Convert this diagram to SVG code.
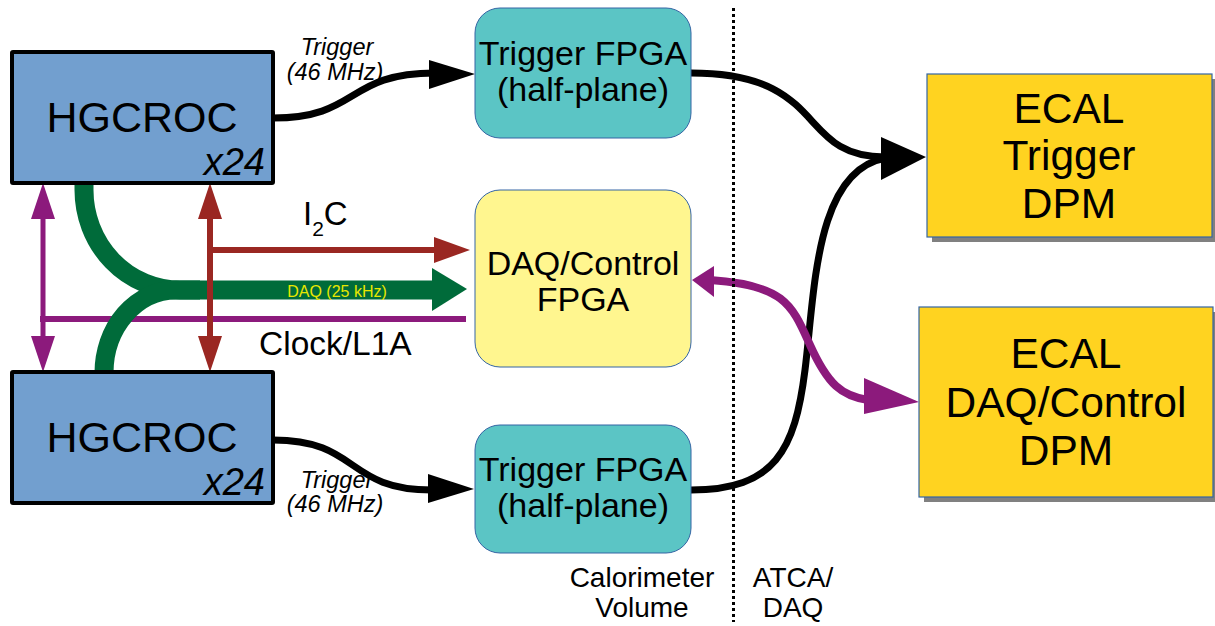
<svg xmlns="http://www.w3.org/2000/svg" width="1215" height="626" viewBox="0 0 1215 626">
<style>
text{font-family:"Liberation Sans",Arial,sans-serif;fill:#000}
.hg{fill:#729fcf;stroke:#000;stroke-width:4}
.tf{fill:#5bc5c5;stroke:#3465a4;stroke-width:1}
.df{fill:#fff68f;stroke:#3465a4;stroke-width:1}
.ec{fill:#ffd320;stroke:#3465a4;stroke-width:1.2}
.sh{fill:#808080}
.blk{fill:none;stroke:#000;stroke-width:7}
.pur{stroke:#8c1a7c;fill:none}
.brn{stroke:#9a2722;fill:none}
.grn{stroke:#006b3a;fill:none}
</style>
<g id="connectors">
  <!-- purple Clock/L1A -->
  <path class="pur" stroke-width="5" d="M43,210 L43,345"/>
  <path class="pur" stroke-width="6" d="M40,319 L466,319"/>
  <polygon fill="#8c1a7c" points="43,183 55,219 31,219"/>
  <polygon fill="#8c1a7c" points="43,372 55,336 31,336"/>
  <!-- green DAQ -->
  <path class="grn" stroke-width="19" d="M84,183 L84,190 A96,100 0 0 0 180,290 L434,290"/>
  <path class="grn" stroke-width="19" d="M104,373 A72,83 0 0 1 176,290 L200,290"/>
  <polygon fill="#006b3a" points="432,268 467,289 432,311"/>
  <!-- brown I2C -->
  <path class="brn" stroke-width="6" d="M210,210 L210,345 M210,250 L438,250"/>
  <polygon fill="#9a2722" points="210,183 222,219 198,219"/>
  <polygon fill="#9a2722" points="210,372 222,336 198,336"/>
  <polygon fill="#9a2722" points="470,250 434,237 434,263"/>
  <!-- triggers from HGCROC -->
  <path class="blk" d="M273,118 C360,118 345,73 435,73"/>
  <polygon points="475,74 429,60 429,89"/>
  <path class="blk" d="M273,440 C360,440 345,490 432,490"/>
  <polygon points="474,489 428,474 428,503"/>
  <!-- trigger FPGA to ECAL -->
  <path class="blk" d="M691,73 C830,73 795,157 885,157"/>
  <path class="blk" d="M691,490 C775,490 795,450 805,370 C815,290 815,170 886,158"/>
  <polygon points="926,157 881,137 881,180"/>
  <!-- purple DAQ link -->
  <path class="pur" stroke-width="8" d="M710,280 C785,285 792,305 810,345 C828,385 842,396 868,400"/>
  <polygon fill="#8c1a7c" points="692,280 714,266 714,297"/>
  <polygon fill="#8c1a7c" points="919,402 864,378 864,414"/>
</g>
<g id="divider">
  <line x1="733.5" y1="8" x2="733.5" y2="622" stroke="#000" stroke-width="3" stroke-dasharray="3,3"/>
</g>
<g id="hgcroc-top">
  <rect class="hg" x="12" y="52" width="261" height="131" rx="1"/>
  <text x="142" y="132" font-size="43" text-anchor="middle">HGCROC</text>
  <text x="265" y="175" font-size="38" font-style="italic" text-anchor="end">x24</text>
</g>
<g id="hgcroc-bottom">
  <rect class="hg" x="12" y="372" width="261" height="131" rx="1"/>
  <text x="142" y="452" font-size="43" text-anchor="middle">HGCROC</text>
  <text x="265" y="495" font-size="38" font-style="italic" text-anchor="end">x24</text>
</g>
<g id="trigger-label-top">
  <text x="337" y="55" font-size="23.5" font-style="italic" text-anchor="middle">Trigger</text>
  <text x="335" y="80" font-size="23.5" font-style="italic" text-anchor="middle">(46 MHz)</text>
</g>
<g id="trigger-label-bottom">
  <text x="337" y="488" font-size="23.5" font-style="italic" text-anchor="middle">Trigger</text>
  <text x="335" y="512" font-size="23.5" font-style="italic" text-anchor="middle">(46 MHz)</text>
</g>
<g id="i2c-label">
  <text x="303" y="225" font-size="33">I<tspan font-size="21" dy="11">2</tspan><tspan dy="-11">C</tspan></text>
</g>
<g id="daq-label">
  <text x="337" y="297" font-size="16" text-anchor="middle" style="fill:#e8e800">DAQ (25 kHz)</text>
</g>
<g id="clock-label">
  <text x="259" y="355" font-size="33.5">Clock/L1A</text>
</g>
<g id="trigger-fpga-top">
  <rect class="tf" x="475" y="8" width="216" height="130" rx="25"/>
  <text x="583" y="65" font-size="34" text-anchor="middle">Trigger FPGA</text>
  <text x="583" y="101" font-size="34" text-anchor="middle">(half-plane)</text>
</g>
<g id="daq-fpga">
  <rect class="df" x="475" y="190" width="216" height="177" rx="25"/>
  <text x="583" y="275" font-size="34" text-anchor="middle">DAQ/Control</text>
  <text x="583" y="311" font-size="34" text-anchor="middle">FPGA</text>
</g>
<g id="trigger-fpga-bottom">
  <rect class="tf" x="475" y="425" width="216" height="128" rx="25"/>
  <text x="583" y="481" font-size="34" text-anchor="middle">Trigger FPGA</text>
  <text x="583" y="517" font-size="34" text-anchor="middle">(half-plane)</text>
</g>
<g id="ecal-trigger-dpm">
  <rect class="sh" x="932" y="79" width="285" height="163"/>
  <rect class="ec" x="927" y="74" width="285" height="163"/>
  <text x="1069" y="123" font-size="42.5" text-anchor="middle">ECAL</text>
  <text x="1069" y="170" font-size="42.5" text-anchor="middle">Trigger</text>
  <text x="1069" y="218" font-size="42.5" text-anchor="middle">DPM</text>
</g>
<g id="ecal-daq-dpm">
  <rect class="sh" x="924" y="312" width="294" height="190"/>
  <rect class="ec" x="919" y="307" width="294" height="190"/>
  <text x="1066" y="368" font-size="42.5" text-anchor="middle">ECAL</text>
  <text x="1066" y="417" font-size="42.5" text-anchor="middle">DAQ/Control</text>
  <text x="1066" y="465" font-size="42.5" text-anchor="middle">DPM</text>
</g>
<g id="region-labels">
  <text x="642" y="587" font-size="28" text-anchor="middle">Calorimeter</text>
  <text x="642" y="617" font-size="28" text-anchor="middle">Volume</text>
  <text x="793" y="587" font-size="28" text-anchor="middle">ATCA/</text>
  <text x="793" y="617" font-size="28" text-anchor="middle">DAQ</text>
</g>
</svg>
